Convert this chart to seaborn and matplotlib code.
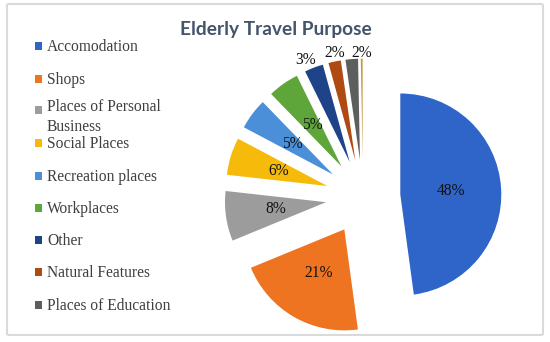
import numpy as np
import matplotlib
matplotlib.use("Agg")
import matplotlib.pyplot as plt
from matplotlib.patches import Rectangle, FancyBboxPatch
import seaborn as sns

# ---- data ----
categories = ["Accomodation", "Shops", "Places of Personal\nBusiness", "Social Places",
              "Recreation places", "Workplaces", "Other", "Natural Features",
              "Places of Education", ""]
values = [48, 21, 8, 6, 5, 5, 3, 2, 2, 0.3]
colors_hex = ["#2F64C8", "#EE7421", "#9C9C9C", "#F6BA0A", "#4A8FD8", "#5EA63A",
              "#1F4388", "#AE4A12", "#5E5E5E", "#C49A48"]
title = "Elderly Travel Purpose"

sns.set_theme(style="white")
palette = sns.color_palette(colors_hex)

W, H = 550, 342
fig = plt.figure(figsize=(5.5, 3.42), dpi=100)
ax = fig.add_axes([0, 0, 1, 1])

serif = "Liberation Serif"
R = 101

def pct_fmt(p):
    return f"{p:.0f}%" if p >= 1 else ""

wedges, _, autotexts = ax.pie(values, colors=palette, startangle=90, counterclock=False,
                              explode=[0.37 * R] * len(values), center=(363, H - 197), radius=R,
                              wedgeprops=dict(linewidth=0), autopct=pct_fmt, pctdistance=0.5,
                              textprops=dict(family=serif, fontsize=11.2, color="#111111"))
# small slices: labels outside the end, nudged apart (pixel offsets)
outside_nudge = {6: (-5, -1.5), 7: (2, -1), 8: (11, -3.5)}
for i, (dx, dy) in outside_nudge.items():
    w = wedges[i]
    mid = np.deg2rad((w.theta1 + w.theta2) / 2)
    cx, cy = w.center
    autotexts[i].set_position((cx + 1.1 * w.r * np.cos(mid) + dx,
                               cy + 1.1 * w.r * np.sin(mid) + dy))
ax.set_xlim(0, W); ax.set_ylim(0, H); ax.axis("off")
ax.set_aspect("equal")

# border
fig.patches.append(FancyBboxPatch((7 / W, 1 - 335 / H), 536 / W, 331 / H,
                                  boxstyle="round,pad=0,rounding_size=0.004",
                                  transform=fig.transFigure, fill=False,
                                  edgecolor="#dadada", linewidth=1.5))

# title
fig.text(276 / W, 1 - 35 / H, title, ha="center", va="baseline",
         family=["Lato", "DejaVu Sans"], fontweight="bold", fontsize=13.8, color="#44546A")

# legend (manual, fixed row spacing like the original)
row_y = [46, 79, 110, 143, 176, 208, 240, 272, 305]
line_gap = 16
for i, y in enumerate(row_y):
    fig.patches.append(Rectangle((35 / W, 1 - (y + 3.5) / H), 7.5 / W, 7.5 / H,
                                 transform=fig.transFigure, facecolor=palette[i],
                                 edgecolor="none"))
    nlines = categories[i].count("\n") + 1
    fig.text(47 / W, 1 - (y + 5 + (nlines - 1) * line_gap) / H, categories[i],
             ha="left", va="baseline", family=serif, fontsize=11.2,
             color="#3f3f3f", linespacing=1.3)

fig.savefig("out.png", dpi=100)
